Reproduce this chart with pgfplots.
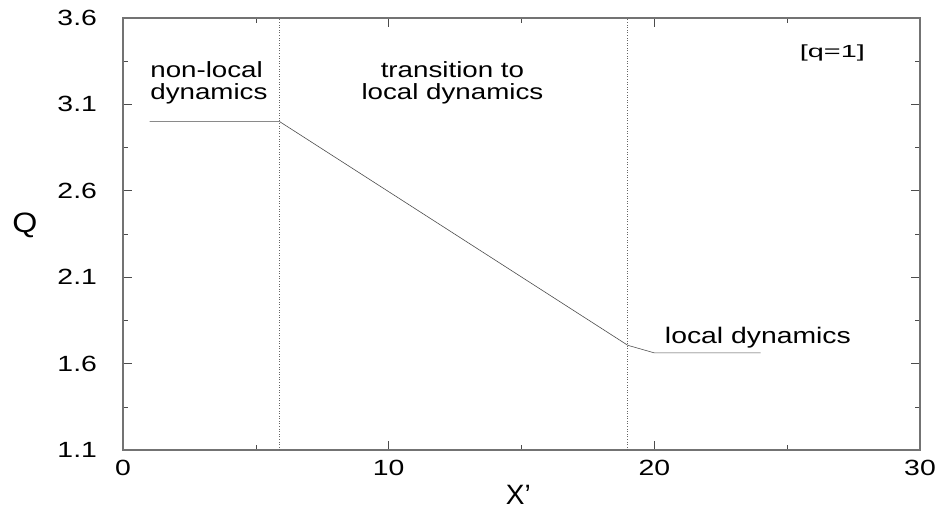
\documentclass[border=0pt]{standalone}
\usepackage{pgfplots}
\pgfplotsset{compat=1.18}
\usepackage{fontspec}
\setmainfont{Liberation Sans}
\begin{document}
\begin{tikzpicture}
\begin{axis}[
  scale only axis,
  width=797bp, height=432bp,
  xmin=0, xmax=30, ymin=1.1, ymax=3.6,
  xtick={0,10,20,30}, minor xtick={5,15,25},
  ytick={1.1,1.6,2.1,2.6,3.1,3.6}, minor ytick={1.35,1.85,2.35,2.85,3.35},
  /pgf/number format/assume math mode=true,
  tick align=inside,
  major tick length=9bp, minor tick length=5bp,
  every tick/.style={black!70, line width=0.6pt},
  axis line style={black!55, line width=1.2pt},
  ticklabel style={font=\fontsize{22bp}{24bp}\selectfont, inner sep=0pt, xscale=1.29},
  yticklabel style={/pgf/number format/fixed, /pgf/number format/fixed zerofill, /pgf/number format/precision=1, anchor=east, xshift=-20bp},
  xticklabel style={anchor=north, yshift=-10bp},
  xlabel={X'}, ylabel={Q},
  label style={font=\fontsize{28bp}{30bp}\selectfont},
  xlabel style={at={(axis description cs:0.496,-0.103)}, anchor=center},
  ylabel style={at={(axis description cs:-0.123,0.52)}, anchor=center, rotate=-90, xscale=1.15},
  clip=false,
]
\addplot[black!70, line width=0.6pt] coordinates {
  (1,3.0) (5.9,3.0) (19,1.706) (20,1.662) (24,1.662)
};
\addplot[black!60, dotted, line width=0.6pt] coordinates {(5.9,1.1) (5.9,3.6)};
\addplot[black!60, dotted, line width=0.6pt] coordinates {(19,1.1) (19,3.6)};
\node[anchor=west, inner sep=0pt, xscale=1.26, align=left, font=\fontsize{22bp}{21.5bp}\selectfont] at (axis cs:1.02,3.225) {non-local\\dynamics};
\node[inner sep=0pt, xscale=1.26, align=center, font=\fontsize{22bp}{21.5bp}\selectfont] at (axis cs:12.4,3.225) {transition to\\local dynamics};
\node[inner sep=0pt, xscale=1.26, font=\fontsize{22.5bp}{24bp}\selectfont] at (axis cs:23.9,1.752) {local dynamics};
\node[inner sep=0pt, xscale=1.65, font=\fontsize{17.5bp}{20bp}\selectfont] at (axis cs:26.7,3.40) {[q=1]};
\end{axis}
\useasboundingbox (current axis.south west) ++(-123bp,-62bp) rectangle ++(941bp,512bp);
\end{tikzpicture}
\end{document}
